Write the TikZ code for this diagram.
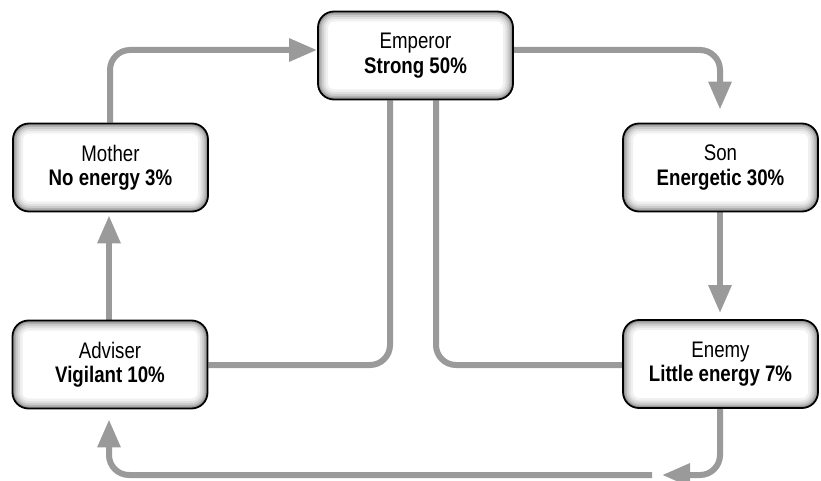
\documentclass[tikz,border=0pt]{standalone}
\usepackage{fontspec}
\setmainfont{Liberation Sans}[FakeStretch=0.83]
\usetikzlibrary{arrows.meta,backgrounds}
\definecolor{conngray}{HTML}{9A9A9A}
\tikzset{
  statebox/.style={draw=black, line width=1.8pt, rounded corners=16pt, fill=white,
    minimum width=195pt, minimum height=88pt, align=center, inner sep=0pt,
    font=\fontsize{22.5}{24.5}\selectfont,
    path picture={
      \foreach \w/\c in {20/6,15/12,11/20,7/30,4/40}{
        \draw[line width=\w pt, black!\c, rounded corners=16pt]
          (path picture bounding box.south west) rectangle (path picture bounding box.north east);
      }
    }},
  conn/.style={draw=conngray, line width=6pt, rounded corners=20pt},
  arr/.style={conn, -{Triangle[length=28pt,width=22pt]}}
}
\begin{document}
\begin{tikzpicture}[x=1pt,y=-1pt]
\useasboundingbox (0,0) rectangle (821,481);
\node[statebox] (emperor) at (415.5,55.5) {Emperor\\\textbf{Strong 50\%}};
\node[statebox] (mother) at (110.5,167.5) {Mother\\\textbf{No energy 3\%}};
\node[statebox] (son) at (720.5,167.5) {Son\\\textbf{Energetic 30\%}};
\node[statebox] (adviser) at (110,364.5) {Adviser\\\textbf{Vigilant 10\%}};
\node[statebox] (enemy) at (720.5,364) {Enemy\\\textbf{Little energy 7\%}};
\coordinate (eb) at (662,475);
\coordinate (ea) at (652,475);
\begin{scope}[on background layer]
\draw[arr] ([xshift=-0.5pt]mother.north) |- ([yshift=5.5pt]emperor.west);
\draw[arr, shorten >=13pt] ([yshift=5.5pt]emperor.east) -| ([xshift=-0.5pt]son.north);
\draw[arr, shorten >=6pt] ([xshift=-0.5pt]son.south) -- ([xshift=-0.5pt]enemy.north);
\draw[arr, shorten >=3pt] ([xshift=-1pt]adviser.north) -- ([xshift=-1.5pt]mother.south);
\draw[conn] ([yshift=-0.5pt]adviser.east) -| ([xshift=-25.5pt]emperor.south);
\draw[conn] ([xshift=20.5pt]emperor.south) |- ([yshift=-1pt]enemy.west);
\draw[arr] ([xshift=-0.5pt]enemy.south) |- (eb);
\draw[arr, shorten >=10pt] (ea) -| ([xshift=-1pt]adviser.south);
\end{scope}
\end{tikzpicture}
\end{document}
